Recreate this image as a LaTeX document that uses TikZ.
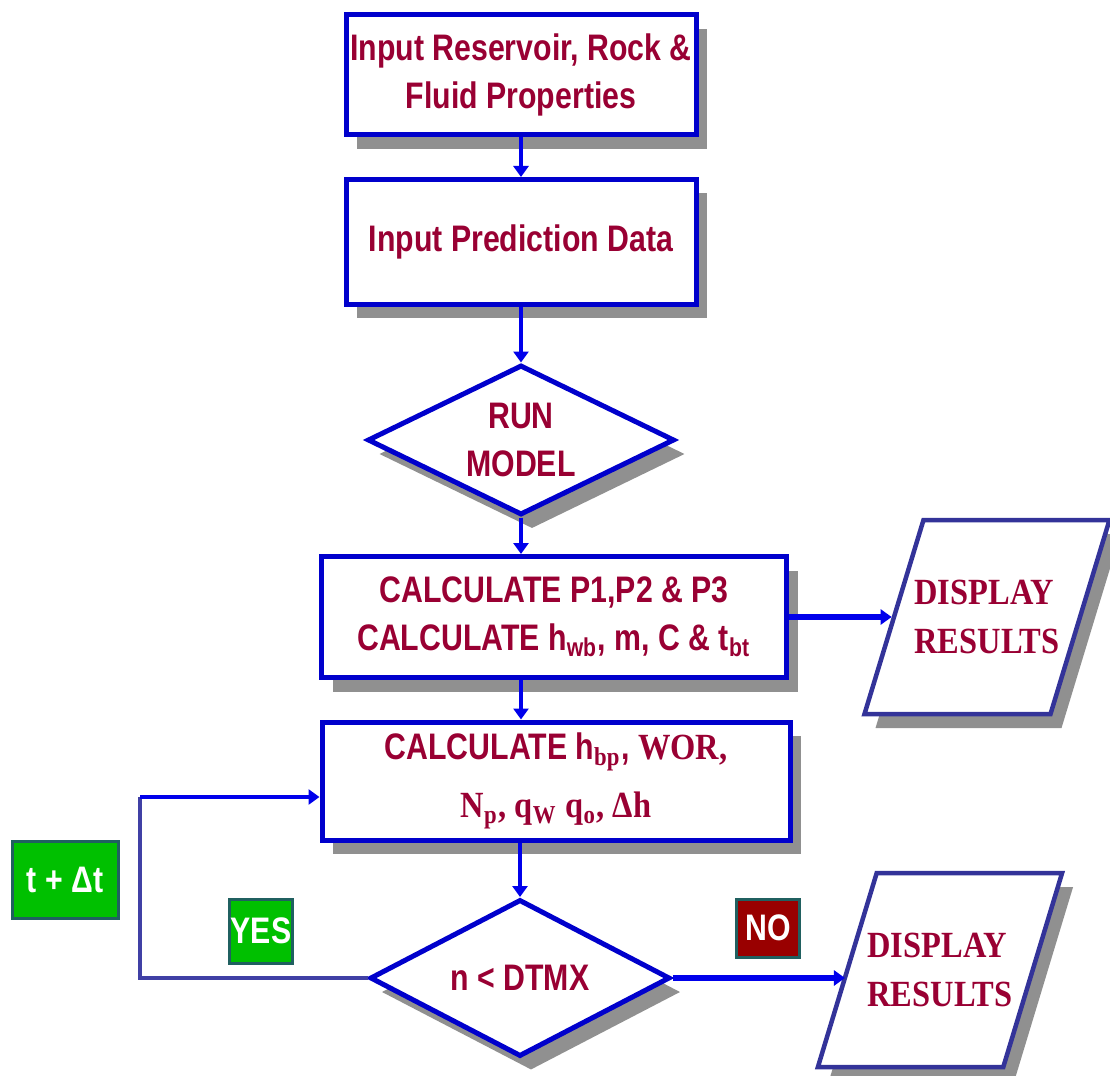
\documentclass[tikz,border=0pt]{standalone}
\usepackage{fontspec}
\newfontfamily\boxsans[FakeStretch=0.82]{Liberation Sans}
\newfontfamily\boxserif[FakeStretch=0.88]{Liberation Serif}
\usetikzlibrary{arrows.meta,positioning,shapes.geometric,shadows}

\definecolor{boxblue}{RGB}{0,0,204}
\definecolor{lineblue}{RGB}{0,0,235}
\definecolor{loopblue}{RGB}{64,64,165}
\definecolor{slantblue}{RGB}{51,51,153}
\definecolor{textred}{RGB}{153,0,51}
\definecolor{shadowgray}{RGB}{144,144,144}
\definecolor{yesgreen}{RGB}{0,192,0}
\definecolor{nored}{RGB}{153,0,0}
\definecolor{tagedge}{RGB}{32,96,96}

\newcommand{\sub}[1]{\textsubscript{#1}}

\tikzset{
  boxshadow/.style={drop shadow={shadow xshift=1.1mm, shadow yshift=-1.4mm, fill=shadowgray, opacity=1}},
  flowbox/.style={draw=boxblue, line width=0.5mm, fill=white, inner sep=0pt, align=center,
    text=textred, font={\boxsans\bfseries\fontsize{10.5}{13.7}\selectfont}, boxshadow},
  flowdiamond/.style={diamond, aspect=2.05, flowbox},
  display/.style={trapezium, trapezium left angle=73, trapezium right angle=107, trapezium stretches,
    draw=slantblue, line width=0.45mm, fill=white, inner xsep=-0.9mm, inner ysep=6mm, align=left,
    text=textred, font={\boxserif\bfseries\fontsize{10.5}{13.7}\selectfont}, boxshadow},
  tag/.style={draw=tagedge, line width=0.3mm, inner sep=0pt, text=white,
    font={\boxsans\bfseries\fontsize{10.5}{12}\selectfont}},
  flowarrow/.style={draw=lineblue, line width=0.45mm, -{Triangle[length=1.1mm,width=1.5mm]}},
  loopline/.style={draw=loopblue, line width=0.45mm}
}

\begin{document}
\begin{tikzpicture}[x=0.1mm,y=-0.1mm]
  \useasboundingbox (0,0) rectangle (1110,1076);

  \node[flowbox, minimum width=35mm, minimum height=12mm] (input) at (521,75)
    {Input Reservoir, Rock \&\\Fluid Properties};
  \node[flowbox, minimum width=35mm, minimum height=12.5mm] (data) at (521,242)
    {Input Prediction Data};
  \node[flowdiamond, minimum width=30.7mm, minimum height=15mm] (run) at (521,440)
    {RUN\\MODEL};
  \node[flowbox, minimum width=46.5mm, minimum height=12.1mm] (calc1) at (554,617)
    {CALCULATE P1,P2 \& P3\\CALCULATE h\sub{wb}, m, C \& t\sub{bt}};
  \node[display, minimum width=24.1mm, minimum height=19.4mm] (disp1) at (987,617)
    {DISPLAY\\RESULTS};
  \node[flowbox, minimum width=46.8mm, minimum height=11.8mm] (calc2) at (556,781)
    {CALCULATE h\sub{\boxserif bp}, {\boxserif WOR,}\\[1mm]
     {\boxserif N\sub{p}, q\sub{W} q\sub{o}, Δh}};
  \node[flowdiamond, minimum width=30mm, minimum height=15.7mm] (check) at (520,978)
    {n < DTMX};
  \node[display, minimum width=24.5mm, minimum height=19.4mm] (disp2) at (940,970)
    {DISPLAY\\RESULTS};

  \node[tag, fill=yesgreen, minimum width=10.6mm, minimum height=7.7mm] (tstep) at (65,880) {t + Δt};
  \node[tag, fill=yesgreen, minimum width=6.3mm, minimum height=6.4mm] (yes) at (261,931) {YES};
  \node[tag, fill=nored, minimum width=6.3mm, minimum height=5.8mm] (no) at (768,928) {NO};

  \draw[flowarrow] (input.south) -- (data.north);
  \draw[flowarrow] (data.south) -- (run.north);
  \draw[flowarrow] (run.south) -- (run.south |- calc1.north);
  \draw[flowarrow, line width=0.6mm] (calc1.east) -- (calc1.east -| disp1.west);
  \draw[flowarrow] (run.south |- calc1.south) -- (run.south |- calc2.north);
  \draw[flowarrow] (check.north |- calc2.south) -- (check.north);
  \draw[flowarrow, line width=0.55mm] (check.east) -- (check.east -| disp2.west);

  \coordinate (loopturn) at (140,797);
  \draw[loopline] (check.west) -| (loopturn);
  \draw[flowarrow] (loopturn) -- (loopturn -| calc2.west);
\end{tikzpicture}
\end{document}
